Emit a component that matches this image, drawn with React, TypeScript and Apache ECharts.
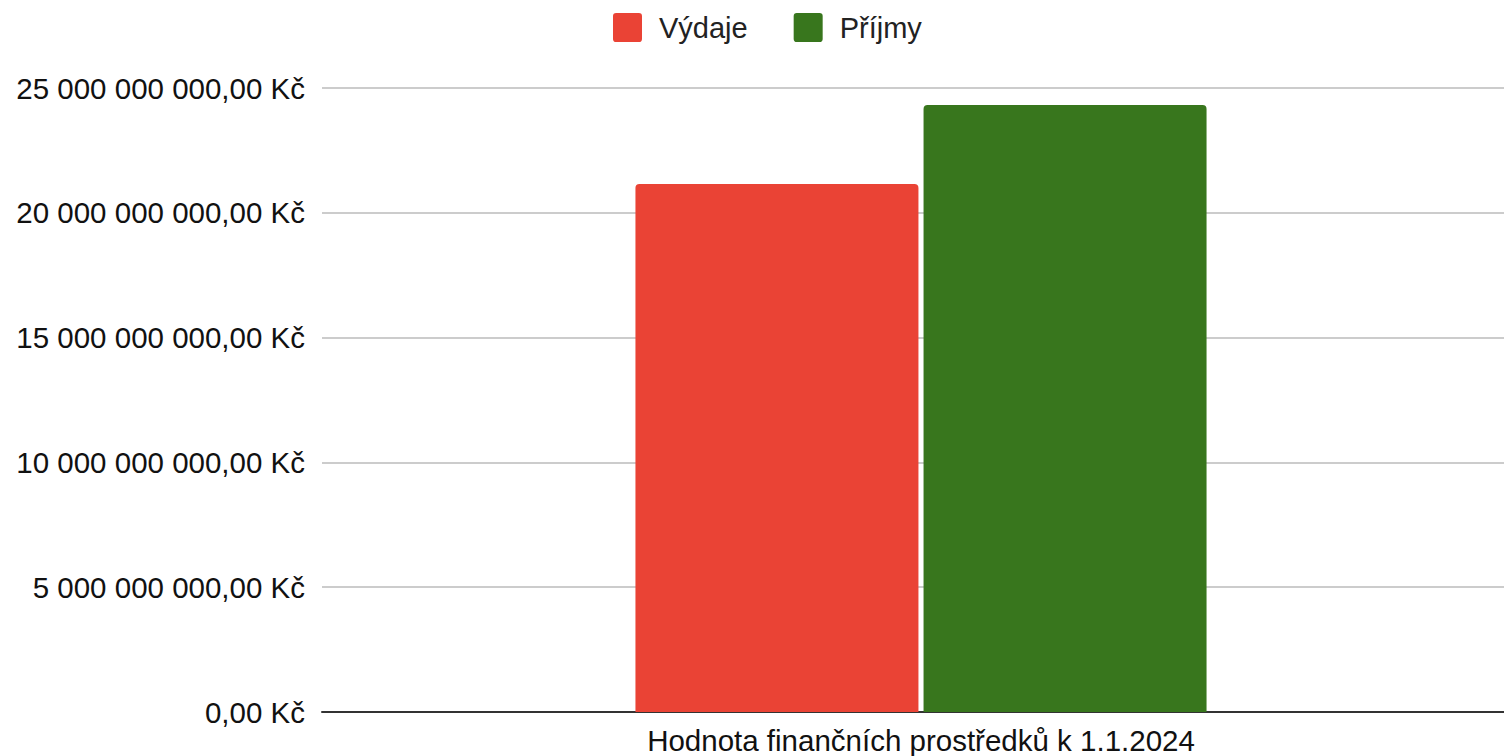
import React, { useEffect, useRef } from "react";
import * as echarts from "echarts";

const categories = ["Hodnota finančních prostředků k 1.1.2024"];
const seriesNames = ["Výdaje", "Příjmy"];
const vydaje = [21150000000];
const prijmy = [24320000000];
const colors = ["#EA4335", "#38761D"];

function fmt(v: number): string {
  const [i, d] = v.toFixed(2).split(".");
  const grouped = i.replace(/\B(?=(\d{3})+(?!\d))/g, " ");
  return `${grouped},${d} Kč`;
}

export default function App() {
  const ref = useRef<HTMLDivElement>(null);
  useEffect(() => {
    if (!ref.current) return;
    const chart = echarts.init(ref.current, null, { renderer: "svg" });
    chart.setOption({
      animation: false,
      textStyle: { fontFamily: "Liberation Sans, Arial, sans-serif" },
      legend: {
        top: 8,
        left: 608,
        itemWidth: 29,
        itemHeight: 29,
        itemGap: 46,
        icon: "path://M3,0 H25 Q28,0 28,3 V25 Q28,28 25,28 H3 Q0,28 0,25 V3 Q0,0 3,0 Z",
        textStyle: { fontSize: 29, color: "#222", padding: [0, 0, 0, 12] },
        data: seriesNames,
      },
      grid: { left: 322, right: 0, top: 88, bottom: 44, containLabel: false },
      xAxis: {
        type: "category",
        data: categories,
        axisLine: { lineStyle: { color: "#333", width: 2 } },
        axisTick: { show: false },
        axisLabel: { fontSize: 29.5, color: "#111", margin: 13 },
      },
      yAxis: {
        type: "value",
        min: 0,
        max: 25000000000,
        interval: 5000000000,
        axisLine: { show: false },
        axisTick: { show: false },
        splitLine: { lineStyle: { color: "#ccc", width: 2 } },
        axisLabel: { fontSize: 29.5, color: "#111", margin: 17, formatter: (v: number) => fmt(v) },
      },
      series: [
        {
          name: seriesNames[0],
          type: "bar",
          data: vydaje,
          barWidth: 283,
          barGap: "1.8%",
          itemStyle: { color: colors[0], borderRadius: [4, 4, 0, 0] },
        },
        {
          name: seriesNames[1],
          type: "bar",
          data: prijmy,
          barWidth: 283,
          barGap: "1.8%",
          itemStyle: { color: colors[1], borderRadius: [4, 4, 0, 0] },
        },
      ],
    });
    return () => chart.dispose();
  }, []);
  return (
    <div
      style={{ position: "fixed", left: 0, top: 0, width: 1504, height: 756, overflow: "hidden", background: "#fff" }}
    >
      <div ref={ref} style={{ width: 1520, height: 756 }} />
    </div>
  );
}
